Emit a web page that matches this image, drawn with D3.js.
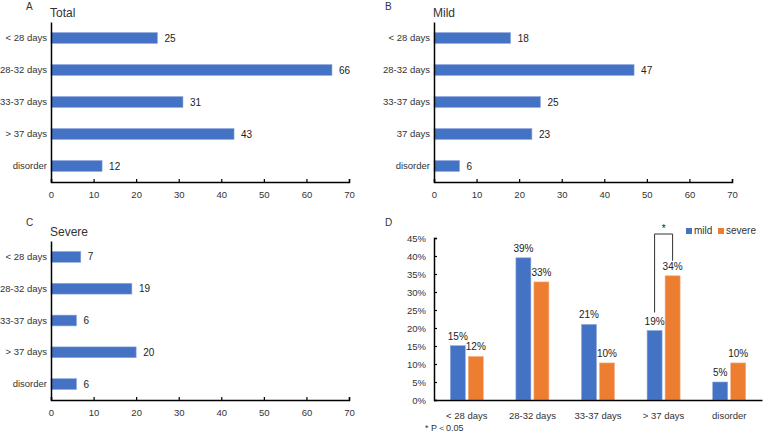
<!DOCTYPE html>
<html><head><meta charset="utf-8">
<script src="https://cdn.jsdelivr.net/npm/d3@7"></script>
<style>body{margin:0;background:#fff}svg{display:block;font-family:"Liberation Sans",Arial,sans-serif}</style>
</head><body><svg id="c" width="764" height="434"></svg>
<script>
const catsA = ["< 28 days","28-32 days","33-37 days","> 37 days","disorder"];
const catsB = ["< 28 days","28-32 days","33-37 days","37 days","disorder"];
const catsC = ["< 28 days","28-32 days","33-37 days","> 37 days","disorder"];
const totalVals = [25,66,31,43,12];
const mildVals = [18,47,25,23,6];
const severeVals = [7,19,6,20,6];
const countTicks = [0,10,20,30,40,50,60,70];
const catsD = ["< 28 days","28-32 days","33-37 days","> 37 days","disorder"];
const mildPct = [15.1,39.5,21.0,19.3,5.0];
const severePct = [12.1,32.8,10.3,34.5,10.3];
const mildPctLabels = ["15%","39%","21%","19%","5%"];
const severePctLabels = ["12%","33%","10%","34%","10%"];
const pctTicks = [0,5,10,15,20,25,30,35,40,45];
const seriesNames = ["mild","severe"];

const BLUE="#4472C4", ORANGE="#ED7D31";
const svg = d3.select("#c");

function hpanel(cfg){
  const g = svg.append("g");
  const x = d3.scaleLinear().domain([0,70]).range([cfg.x0,cfg.x1]);
  const y = d3.scaleBand().domain(cfg.cats).range([cfg.yTop,cfg.yBot]).paddingInner(0.66).paddingOuter(0.33);
  g.selectAll("rect.bar").data(cfg.vals).enter().append("rect")
    .attr("x",x(0)).attr("y",(d,i)=>y(cfg.cats[i]))
    .attr("width",d=>x(d)-x(0)).attr("height",y.bandwidth())
    .attr("fill",BLUE).attr("stroke","#8faadc").attr("stroke-width",0.6);
  g.selectAll("text.val").data(cfg.vals).enter().append("text")
    .attr("x",d=>x(d)+7).attr("y",(d,i)=>y(cfg.cats[i])+y.bandwidth()/2)
    .attr("dy","0.35em").attr("font-size",10).attr("fill","#222").text(d=>d);
  const xa = g.append("g").attr("transform",`translate(0,${cfg.yBot})`)
    .call(d3.axisBottom(x).tickValues(countTicks).tickSizeInner(-3).tickSizeOuter(-3).tickPadding(9));
  xa.select(".domain").attr("stroke","#000").attr("stroke-width",1.5);
  xa.selectAll(".tick line").attr("stroke","#000").attr("stroke-width",1.2);
  xa.selectAll("text").attr("font-size",9.5).attr("fill","#333").attr("font-family","Liberation Sans, Arial, sans-serif");
  const ya = g.append("g").attr("transform",`translate(${cfg.x0},0)`)
    .call(d3.axisLeft(y).tickSize(0).tickPadding(4));
  ya.select(".domain").attr("stroke","#000").attr("stroke-width",1.5);
  ya.selectAll("text").attr("font-size",9.5).attr("fill","#333").attr("font-family","Liberation Sans, Arial, sans-serif");
  g.append("text").attr("x",cfg.x0-1).attr("y",cfg.yTop-5).attr("font-size",12).attr("fill","#333").text(cfg.title);
  g.append("text").attr("x",cfg.lx).attr("y",cfg.ly).attr("font-size",10).attr("fill","#333").text(cfg.letter);
}

hpanel({cats:catsA, vals:totalVals, x0:51, x1:349, yTop:22, yBot:182, title:"Total", letter:"A", lx:26, ly:10});
hpanel({cats:catsB, vals:mildVals, x0:434, x1:732, yTop:22, yBot:182, title:"Mild", letter:"B", lx:385, ly:10});
hpanel({cats:catsC, vals:severeVals, x0:51, x1:349, yTop:241, yBot:400, title:"Severe", letter:"C", lx:26, ly:226});

// Panel D
(function(){
  const g = svg.append("g");
  const x0 = 434, x1 = 762, yTop = 238, yBot = 400;
  const x = d3.scaleBand().domain(catsD).range([x0,x1]);
  const y = d3.scaleLinear().domain([0,45]).range([yBot,yTop]);
  const bw = 15, gap = 3;
  const series = [{name:"mild",vals:mildPct,labels:mildPctLabels,color:BLUE},
                  {name:"severe",vals:severePct,labels:severePctLabels,color:ORANGE}];
  series.forEach((s,si)=>{
    const off = si===0 ? 0 : bw+gap;
    g.selectAll(null).data(s.vals).enter().append("rect")
      .attr("x",(d,i)=>x(catsD[i])+x.bandwidth()/2-(2*bw+gap)/2+off)
      .attr("y",d=>y(d)).attr("width",bw).attr("height",d=>y(0)-y(d))
      .attr("fill",s.color).attr("stroke",si===0?"#8faadc":"#f4b183").attr("stroke-width",0.6);
    g.selectAll(null).data(s.vals).enter().append("text")
      .attr("x",(d,i)=>x(catsD[i])+x.bandwidth()/2-(2*bw+gap)/2+off+bw/2)
      .attr("y",d=>y(d)-6).attr("text-anchor","middle").attr("font-size",10).attr("fill","#222")
      .text((d,i)=>s.labels[i]);
  });
  const ya = g.append("g").attr("transform",`translate(${x0},0)`)
    .call(d3.axisLeft(y).tickValues(pctTicks).tickFormat(d=>d+"%").tickSizeInner(-3).tickSizeOuter(-3).tickPadding(8));
  ya.select(".domain").attr("stroke","#000").attr("stroke-width",1.5);
  ya.selectAll(".tick line").attr("stroke","#000").attr("stroke-width",1.2);
  ya.selectAll("text").attr("font-size",9.5).attr("fill","#333").attr("font-family","Liberation Sans, Arial, sans-serif");
  const xa = g.append("g").attr("transform",`translate(0,${yBot})`)
    .call(d3.axisBottom(x).tickSize(0).tickPadding(12));
  xa.select(".domain").attr("stroke","#000").attr("stroke-width",1.5);
  xa.selectAll("text").attr("font-size",9.5).attr("fill","#333").attr("font-family","Liberation Sans, Arial, sans-serif");
  // significance bracket over "> 37 days"
  const c = catsD[3];
  const mx = x(c)+x.bandwidth()/2-(2*bw+gap)/2+bw/2;
  const sx = mx+bw+gap;
  const topY = 234;
  g.append("path").attr("d",`M${mx},${y(mildPct[3])-18}V${topY}H${sx}V${y(severePct[3])-15}`)
    .attr("fill","none").attr("stroke","#333").attr("stroke-width",1);
  g.append("text").attr("x",(mx+sx)/2).attr("y",topY-2).attr("text-anchor","middle").attr("font-size",10).attr("fill","#222").text("*");
  // legend
  const lg = g.append("g");
  series.forEach((s,i)=>{
    const lx = i===0 ? 686 : 718;
    lg.append("rect").attr("x",lx).attr("y",228).attr("width",6).attr("height",6).attr("fill",s.color);
    lg.append("text").attr("x",lx+8).attr("y",234).attr("font-size",10).attr("fill","#333").text(s.name);
  });
  g.append("text").attr("x",425).attr("y",431).attr("font-size",9).attr("fill","#333").text("* P\uFF1C0.05");
  g.append("text").attr("x",385).attr("y",226).attr("font-size",10).attr("fill","#333").text("D");
})();
</script></body></html>
